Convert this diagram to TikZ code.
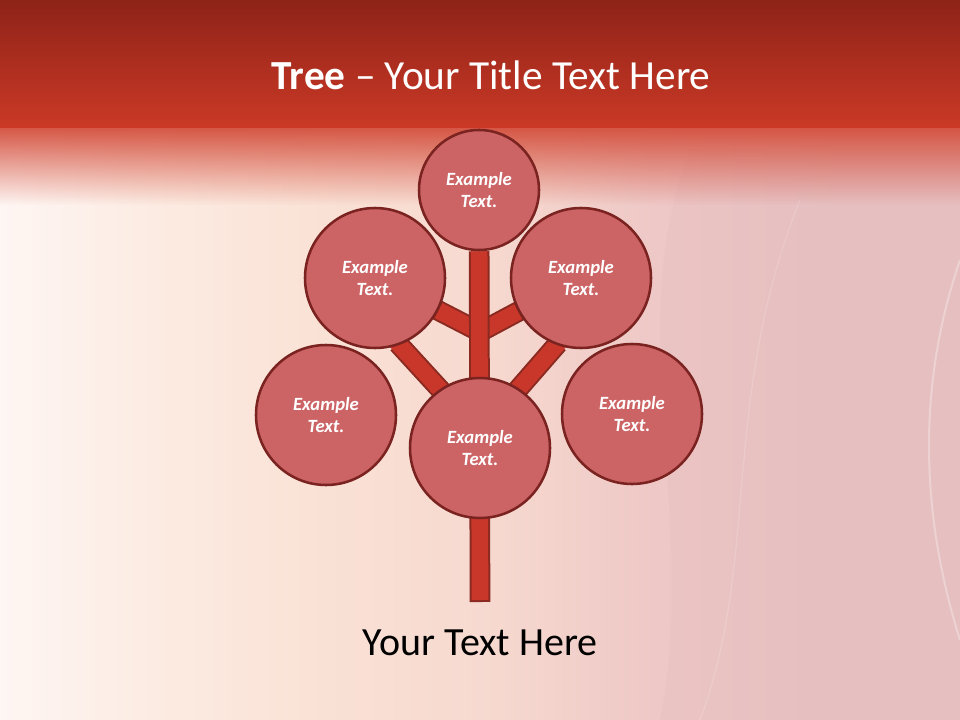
\documentclass[tikz,border=0pt]{standalone}
\usepackage{fontspec}
\setmainfont{Carlito}
\usetikzlibrary{fadings}
\definecolor{treeBandTop}{HTML}{8E2318}
\definecolor{treeBandLow}{HTML}{CB3926}
\definecolor{treeFade}{HTML}{D4503E}
\definecolor{treeBodyA}{HTML}{FEF6F3}
\definecolor{treeBodyB}{HTML}{FCEBE2}
\definecolor{treeBodyC}{HTML}{FAE2D6}
\definecolor{treeBodyD}{HTML}{F6D8CF}
\definecolor{treeBodyE}{HTML}{EEC8C6}
\definecolor{treeBodyF}{HTML}{E8C2C3}
\definecolor{treeWave}{HTML}{DDB3B6}
\definecolor{treeLeaf}{HTML}{CC6466}
\definecolor{treeLeafEdge}{HTML}{7A2320}
\definecolor{treeLimb}{HTML}{C9372A}
\definecolor{treeLimbEdge}{HTML}{8A2A20}
\pgfdeclarehorizontalshading{treebody}{100bp}{color(0bp)=(treeBodyA); color(25bp)=(treeBodyA);
  color(33bp)=(treeBodyB); color(41bp)=(treeBodyC); color(51bp)=(treeBodyD);
  color(59bp)=(treeBodyE); color(69bp)=(treeBodyF); color(75bp)=(treeBodyF); color(100bp)=(treeBodyF)}
\tikzfading[name=treebandfade, top color=transparent!0, bottom color=transparent!100]
\pgfdeclarelayer{backdrop}
\pgfdeclarelayer{limbs}
\pgfsetlayers{backdrop,limbs,main}
\tikzset{
  tree leaf/.style={circle, draw=treeLeafEdge, fill=treeLeaf, line width=1.9pt, minimum size=105pt, inner sep=0pt, align=center, text=white, font=\fontsize{14}{17}\selectfont\bfseries\itshape},
  tree top leaf/.style={tree leaf, minimum size=90pt},
  tree limb/.style={draw=treeLimb, line width=12.5pt, preaction={draw=treeLimbEdge, line width=15.5pt, shorten >=-1.5pt}},
  tree title/.style={text=white, font=\fontsize{31}{37}\selectfont},
  tree caption/.style={text=black, font=\fontsize{30}{36}\selectfont},
}

\begin{document}
\begin{tikzpicture}[x=0.75pt, y=0.75pt]
  \useasboundingbox (0,0) rectangle (960,-720);

  % slide background
  \begin{pgfonlayer}{backdrop}
    \shade[shading=treebody] (0,0) rectangle (960,-720);
    \fill[treeWave, opacity=0.18] (660,-720) .. controls (700,-520) and (620,-330) .. (690,-150) -- (960,-150) -- (960,-720) -- cycle;
    \draw[white, opacity=0.3, line width=1.5pt] (960,-260) .. controls (905,-420) and (935,-560) .. (960,-640);
    \draw[white, opacity=0.15, line width=1pt] (700,-720) .. controls (760,-560) and (720,-400) .. (800,-200);
    \fill[treeFade, path fading=treebandfade] (0,-124) rectangle (960,-205);
    \fill[top color=treeBandTop, bottom color=treeBandLow] (0,0) rectangle (960,-128);
  \end{pgfonlayer}

  \node[tree title] (title) at (491,-75) {\textbf{Tree} – Your Title Text Here};

  % leaves
  \node[tree top leaf] (crown) at (479,-190) {Example\\Text.};
  \foreach \nm/\cx/\cy in {ul/375/278, ur/581/278, ll/326/415, lr/632/414, base/480/448}
    \node[tree leaf] (\nm) at (\cx,-\cy) {Example\\Text.};

  % trunk and branches
  \coordinate (forkhi) at (480,-332);
  \coordinate (forklo) at (480,-433);
  \coordinate (root) at (480,-600);
  \begin{pgfonlayer}{limbs}
    \draw[tree limb] (forkhi) -- (ul);
    \draw[tree limb] (forkhi) -- (ur);
    \draw[tree limb, shorten >=-20pt] (forklo) -- (ul.-70);
    \draw[tree limb, shorten >=-20pt] (forklo) -- (ur.-110);
    \draw[tree limb] (crown) -- (root);
  \end{pgfonlayer}

  \node[tree caption] (caption) at (480,-643) {Your Text Here};
\end{tikzpicture}
\end{document}
